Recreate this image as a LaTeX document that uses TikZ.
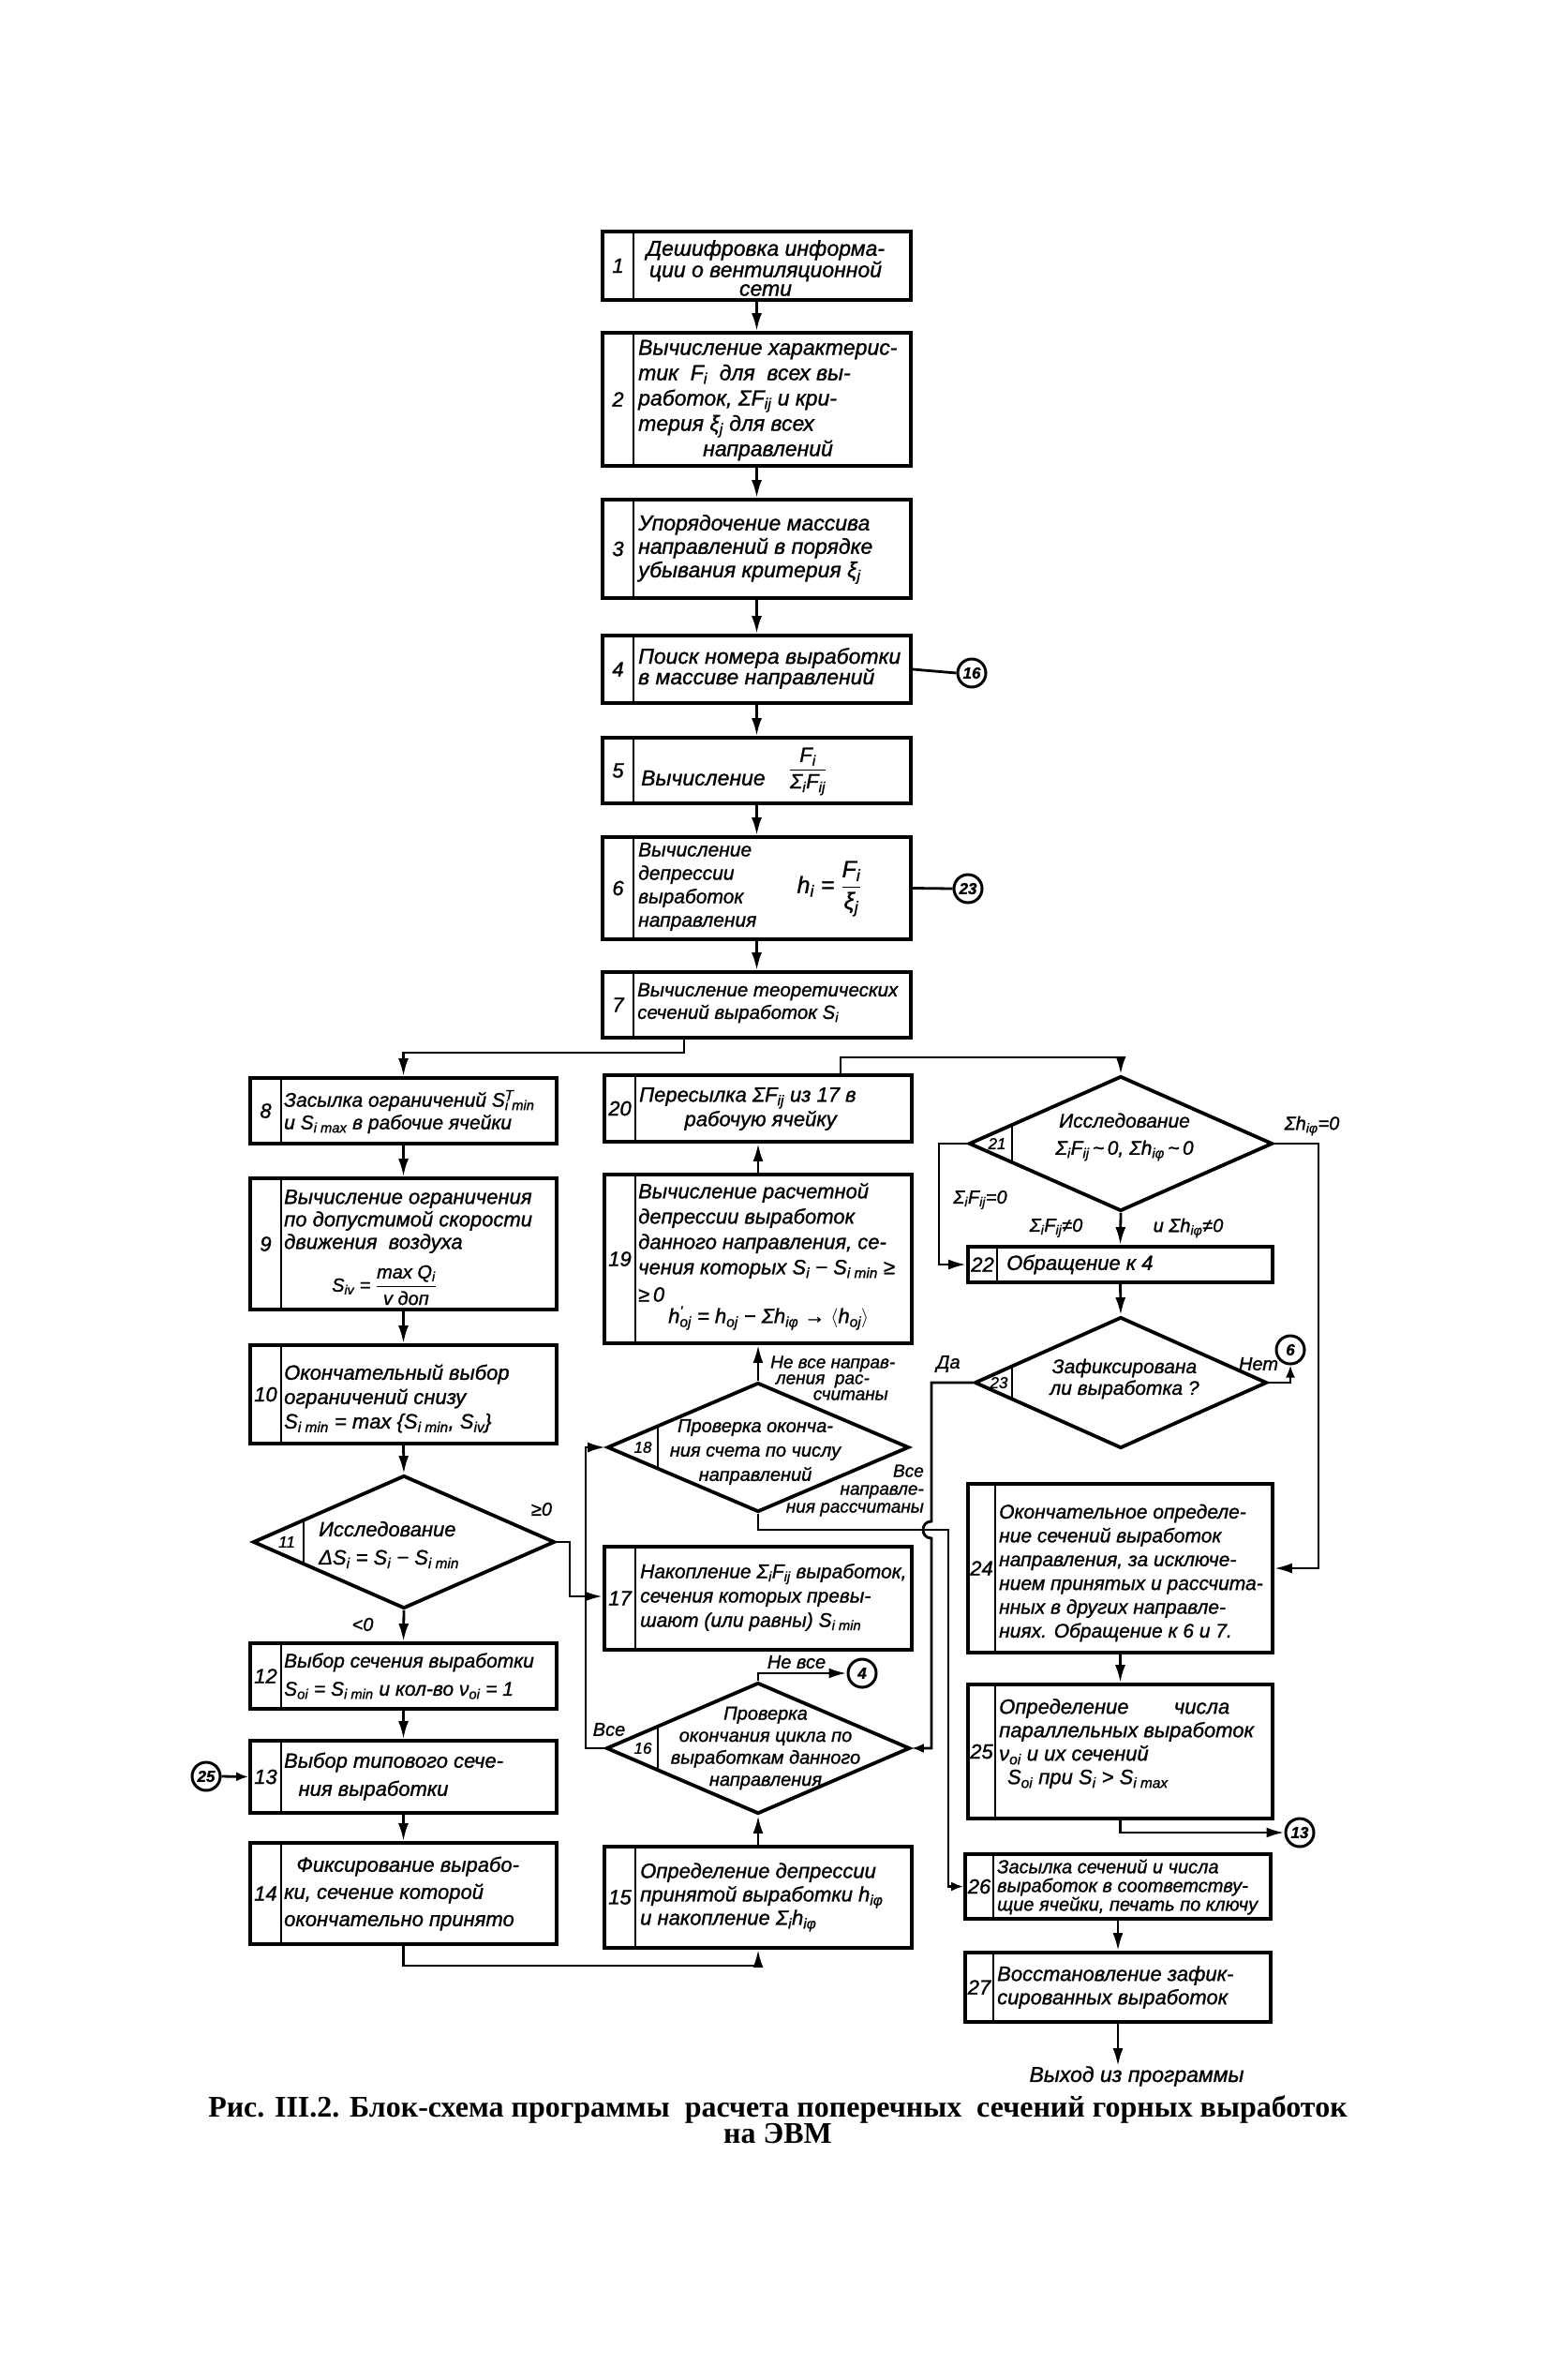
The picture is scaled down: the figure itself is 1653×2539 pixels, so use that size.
\documentclass[tikz,border=0pt]{standalone}
\usepackage{fontspec}
\setmainfont{Liberation Sans}
\newfontfamily\hw{Liberation Sans}[FakeBold=1.2]
\newfontfamily\capfont{Liberation Serif}
\usetikzlibrary{arrows.meta,shapes.geometric,fit,calc}
\newcommand\sub[1]{\textsubscript{#1}}
\newcommand\supsub[2]{\makebox[0pt][l]{\textsuperscript{#1}}\textsubscript{#2}}
\newcommand\fs[2]{\fontsize{#1}{#2}\selectfont}
\newcommand\frc[2]{$\displaystyle\frac{\mbox{#1}}{\mbox{#2}}$}
\tikzset{
  box/.style={draw, line width=3.8pt, rectangle, inner sep=0pt},
  dia/.style={draw, line width=3.8pt, diamond, inner sep=0pt},
  ln/.style={line width=2.8pt},
  arr/.style={line width=2.8pt, -{Latex[length=19pt,width=11pt]}},
  arrs/.style={line width=2.8pt, -{Latex[length=13pt,width=10pt]}},
  txt/.style={font=\hw\itshape\fs{22}{25}, align=left, inner sep=0pt, anchor=west},
  num/.style={font=\hw\itshape\fs{22}{24}, inner sep=0pt},
  dnum/.style={font=\hw\itshape\fs{17}{17}, inner sep=0pt},
  con/.style={draw, circle, line width=3pt, minimum size=30pt, inner sep=0pt, font=\hw\bfseries\itshape\fs{17}{17}},
  lbl/.style={font=\hw\itshape\fs{20}{19}, inner sep=0pt, align=left},
}
\newcommand\blk[7]{%
  \node[box, fit={(#2,#3) (#4,#5)}] (#1) {};
  \draw[ln] (#6,#3) -- (#6,#5);
  \node[num] (#1n) at ($(#2,#3)!0.5!(#6,#5)$) {#7};}
\begin{document}
\begin{tikzpicture}[x=1pt,y=-1pt]
\useasboundingbox[fill=white] (0,0) rectangle (1653,2539);

% ---------- main column ----------
\blk{b1}{643}{247}{972}{320}{676}{1}
\blk{b2}{643}{355}{972}{497}{676}{2}
\blk{b3}{643}{533}{972}{638}{676}{3}
\blk{b4}{643}{678}{972}{750}{676}{4}
\blk{b5}{643}{787}{972}{857}{676}{5}
\blk{b6}{643}{893}{972}{1002}{676}{6}
\blk{b7}{643}{1037}{972}{1107}{676}{7}

\node[txt, anchor=center, align=center, font=\hw\itshape\fs{23}{20}] (t1) at (817,286) {Дешифровка информа-\\ции о вентиляционной\\сети};
\node[txt, font=\hw\itshape\fs{23}{27}] (t2) at (681,427) {Вычисление характерис-\\тик\ \ F\sub{i}\ \ для\ \ всех вы-\\работок, ΣF\sub{ij} и кри-\\терия ξ\sub{j} для всех\\\hspace*{3em}направлений};
\node[txt, font=\hw\itshape\fs{23}{25}] (t3) at (681,586) {Упорядочение массива\\направлений в порядке\\убывания критерия ξ\sub{j}};
\node[txt, font=\hw\itshape\fs{23}{22}] (t4) at (681,713) {Поиск номера выработки\\в массиве направлений};
\node[txt, font=\hw\itshape\fs{23}{25}] (t5a) at (684,830) {Вычисление};
\node[txt, anchor=center] (t5b) at (862,823) {\frc{F\sub{i}}{Σ\sub{i}F\sub{ij}}};
\node[txt, font=\hw\itshape\fs{21}{25}] (t6a) at (681,946) {Вычисление\\депрессии\\выработок\\направления};
\node[txt, anchor=center, font=\hw\itshape\fs{25}{25}] (t6b) at (885,948) {h\sub{i} = \frc{F\sub{i}}{ξ\sub{j}}};
\node[txt, font=\hw\itshape\fs{20.5}{24}] (t7) at (680,1070) {Вычисление теоретических\\сечений выработок S\sub{i}};

\node[con] (c16) at (1037,718) {16};
\node[con] (c23) at (1033,948) {23};

\foreach \a/\b in {b1/b2,b2/b3,b3/b4,b4/b5,b5/b6,b6/b7}
  \draw[arr] (\a.south) -- (\b.north);
\draw[ln] (b4.east) -- (c16.west);
\draw[ln] (b6.east) -- (c23.west);

% ---------- left column ----------
\blk{b8}{267}{1150}{594}{1220}{300}{8}
\blk{b9}{267}{1257}{594}{1397}{300}{9}
\blk{b10}{267}{1435}{594}{1540}{300}{10}
\blk{b12}{267}{1753}{594}{1823}{300}{12}
\blk{b13}{267}{1857}{594}{1934}{300}{13}
\blk{b14}{267}{1966}{594}{2074}{300}{14}

\node[dia, minimum width=322pt, minimum height=142pt] (d11) at (431,1645) {};
\draw[ln] (324,1621) -- (324,1669);
\node[dnum] (d11n) at (306,1645) {11};

\node[txt, font=\hw\itshape\fs{21}{24}] (t8) at (303,1186) {Засылка ограничений S\supsub{T}{i min}\\и S\sub{i max} в рабочие ячейки};
\node[txt, font=\hw\itshape\fs{22}{24}] (t9) at (303,1303) {Вычисление ограничения\\по допустимой скорости\\движения\ \ воздуха};
\node[txt, anchor=center, font=\hw\itshape\fs{20}{20}] (t9b) at (410,1371) {S\sub{iv} = \frc{max Q\sub{i}}{v доп}};
\node[txt, font=\hw\itshape\fs{22}{26}] (t10) at (303,1492) {Окончательный выбор\\ограничений снизу\\S\sub{i min} = max \{S\sub{i min}, S\sub{iv}\}};
\node[txt, font=\hw\itshape\fs{22}{30}] (t11) at (340,1648) {Исследование\\ΔS\sub{i} = S\sub{i} − S\sub{i min}};
\node[txt, font=\hw\itshape\fs{21}{30}] (t12) at (303,1788) {Выбор сечения выработки\\S\sub{oi} = S\sub{i min} и кол-во ν\sub{oi} = 1};
\node[txt, font=\hw\itshape\fs{22}{30}] (t13) at (303,1895) {Выбор типового сече-\\\hspace*{0.7em}ния выработки};
\node[txt, font=\hw\itshape\fs{22}{29}] (t14) at (303,2020) {\hspace*{0.6em}Фиксирование вырабо-\\ки, сечение которой\\окончательно принято};

\node[con] (c25) at (220,1895) {25};

\coordinate (k7) at (730,1123);
\draw[arr] (b7.south -| k7) -- (k7) -| (b8.north);
\draw[arr] (b8.south) -- (b9.north);
\draw[arr] (b9.south) -- (b10.north);
\draw[arr] (b10.south) -- (d11.north);
\draw[arr] (d11.south) -- (b12.north);
\draw[arr] (b12.south) -- (b13.north);
\draw[arr] (b13.south) -- (b14.north);
\draw[arrs] (c25.east) -- (b13.west);
\node[lbl] (l11a) at (578,1610) {≥0};
\node[lbl] (l11b) at (387,1733) {<0};

% ---------- middle column ----------
\blk{b20}{645}{1147}{973}{1218}{678}{20}
\blk{b19}{645}{1253}{973}{1433}{678}{19}
\blk{b17}{645}{1650}{973}{1760}{678}{17}
\blk{b15}{645}{1970}{973}{2078}{678}{15}

\node[dia, minimum width=322pt, minimum height=138pt] (d18) at (809,1544) {};
\draw[ln] (702,1521) -- (702,1567);
\node[dnum] (d18n) at (686,1544) {18};
\node[dia, minimum width=324pt, minimum height=140pt] (d16) at (809,1865) {};
\draw[ln] (702,1841) -- (702,1889);
\node[dnum] (d16n) at (686,1865) {16};

\node[txt, font=\hw\itshape\fs{22}{26}] (t20) at (682,1183) {Пересылка ΣF\sub{ij} из 17 в\\\hspace*{2.2em}рабочую ячейку};
\node[txt, font=\hw\itshape\fs{22}{27}] (t19) at (681,1313) {Вычисление расчетной\\депрессии выработок\\данного направления, се-\\чения которых S\sub{i} − S\sub{i min} ≥};
\node[txt] (t19b) at (681,1381) {≥\,0};
\node[txt] (t19c) at (713,1406) {h\supsub{'}{oj} = h\sub{oj} − Σh\sub{iφ} → $\langle$h\sub{oj}$\rangle$};
\node[txt, anchor=center, align=center, font=\hw\itshape\fs{20}{26}] (t18) at (806,1549) {Проверка оконча-\\ния счета по числу\\направлений};
\node[txt, font=\hw\itshape\fs{21}{26}] (t17) at (683,1704) {Накопление Σ\sub{i}F\sub{ij} выработок,\\сечения которых превы-\\шают (или равны) S\sub{i min}};
\node[txt, anchor=center, align=center, font=\hw\itshape\fs{20}{23.5}] (t16) at (817,1865) {Проверка\\окончания цикла по\\выработкам данного\\направления};
\node[txt, font=\hw\itshape\fs{22}{25}] (t15) at (683,2024) {Определение депрессии\\принятой выработки h\sub{iφ}\\и накопление Σ\sub{i}h\sub{iφ}};

\node[con] (c4) at (920,1785) {4};

\draw[arr] (b19.north) -- (b20.south);
\draw[arr] (d18.north) -- (b19.south);
\draw[arr] (b15.north) -- (d16.south);
\draw[arr] (d16.north) |- (c4.west);
\coordinate (k11) at (608,1703);
\draw[arr] (d11.east) -| (k11) -- (k11 -| b17.west);
\coordinate (k16) at (625,1865);
\draw[arr] (d16.west) -- (k16) |- (d18.west);
\draw[arr] (b14.south) -- ++(0,21) -| (b15.south);

\node[lbl, anchor=west, font=\hw\itshape\fs{19}{17}] (l18a) at (822,1470) {Не все направ-\\\hspace*{0.3em}ления\ \ рас-\\\hspace*{2.4em}считаны};
\node[lbl, anchor=east, align=right, font=\hw\itshape\fs{19}{19}] (l18b) at (986,1590) {Все\\направле-\\ния рассчитаны};
\node[lbl] (l16a) at (850,1773) {Не все};
\node[lbl] (l16b) at (650,1845) {Все};

% ---------- right column ----------
\node[dia, minimum width=324pt, minimum height=144pt] (d21) at (1196,1220) {};
\draw[ln] (1080,1200) -- (1080,1240);
\node[dnum] (d21n) at (1064,1220) {21};
\blk{b22}{1033}{1330}{1358}{1368}{1064}{22}
\node[dia, minimum width=312pt, minimum height=140pt] (d23) at (1196,1475) {};
\draw[ln] (1080,1457) -- (1080,1493);
\node[dnum] (d23n) at (1066,1475) {23};
\blk{b24}{1033}{1583}{1358}{1763}{1062}{24}
\blk{b25}{1033}{1797}{1358}{1940}{1062}{25}
\blk{b26}{1030}{1978}{1356}{2047}{1060}{26}
\blk{b27}{1030}{2083}{1356}{2157}{1060}{27}

\node[txt, anchor=center, align=center, font=\hw\itshape\fs{21}{29}] (t21) at (1200,1213) {Исследование\\Σ\sub{i}F\sub{ij}\,\textasciitilde\,0, Σh\sub{iφ}\,\textasciitilde\,0};
\node[txt] (t22) at (1074,1349) {Обращение к 4};
\node[txt, anchor=center, align=center, font=\hw\itshape\fs{21}{23}] (t23) at (1200,1471) {Зафиксирована\\ли выработка ?};
\node[txt, font=\hw\itshape\fs{21}{25.4}] (t24) at (1066,1678) {Окончательное определе-\\ние сечений выработок\\направления, за исключе-\\нием принятых и рассчита-\\нных в других направле-\\ниях. Обращение к 6 и 7.};
\node[txt, font=\hw\itshape\fs{22}{25}] (t25) at (1066,1860) {Определение\hspace{2.2em}числа\\параллельных выработок\\ν\sub{oi} и их сечений\\\hspace*{0.4em}S\sub{oi} при S\sub{i} > S\sub{i max}};
\node[txt, font=\hw\itshape\fs{20}{20}] (t26) at (1064,2013) {Засылка сечений и числа\\выработок в соответству-\\щие ячейки, печать по ключу};
\node[txt, font=\hw\itshape\fs{22}{25}] (t27) at (1064,2120) {Восстановление зафик-\\сированных выработок};
\node[txt, anchor=center, font=\hw\itshape\fs{23}{25}] (exit) at (1213,2215) {Выход из программы};

\node[con] (c6) at (1377,1440) {6};
\node[con] (c13) at (1387,1955) {13};

\coordinate (k20) at (897,1128);
\draw[arr] (b20.north -| k20) -- (k20) -| (d21.north);
\draw[arr] (d21.south) -- (b22.north);
\coordinate (k21) at (1002,1220);
\draw[arr] (d21.west) -- (k21) |- (b22.west);
\coordinate (k21e) at (1407,1220);
\draw[arr] (d21.east) -- (k21e) |- (b24.east);
\draw[arr] (b22.south) -- (d23.north);
\draw[arrs] (d23.east) -| (c6.south);
\draw[arr] (b24.south) -- (b25.north);
\draw[arr] (b25.south) |- (c13.west);
\draw[arr] (b26.south) -- (b27.north);
\draw[arr] (b27.south) -- (b27.south |- exit.north);

% D18 "all directions" -> 26 ; D23 "yes" -> 16 (with hop)
\coordinate (k18a) at (809,1632);
\coordinate (k18b) at (1012,1632);
\draw[arrs] (d18.south) -- (k18a) -- (k18b) |- (b26.west);
\coordinate (k23a) at (994,1475);
\coordinate (h1) at (994,1623);
\coordinate (h2) at (994,1641);
\draw[arrs] (d23.west) -- (k23a) -- (h1) .. controls (982,1623) and (982,1641) .. (h2) |- (d16.east);

\node[lbl] (l23a) at (1012,1455) {Да};
\node[lbl] (l23b) at (1343,1455) {Нет};
\node[lbl] (l21a) at (1400,1201) {Σh\sub{iφ}=0};
\node[lbl] (l21b) at (1046,1280) {Σ\sub{i}F\sub{ij}=0};
\node[lbl] (l21c) at (1127,1310) {Σ\sub{i}F\sub{ij}≠0};
\node[lbl] (l21d) at (1268,1310) {и Σh\sub{iφ}≠0};

% ---------- caption ----------
\node[inner sep=0pt, align=center, font=\capfont\bfseries\fs{32}{28}] (cap) at (830,2261) {Рис. III.2. Блок-схема программы\ \ расчета поперечных\ \ сечений горных выработок\\на ЭВМ};
\end{tikzpicture}
\end{document}
